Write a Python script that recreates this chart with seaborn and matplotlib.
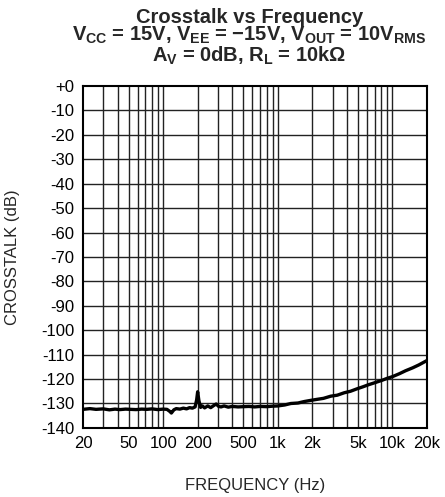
import numpy as np
import pandas as pd
import matplotlib
matplotlib.use("Agg")
import matplotlib.pyplot as plt
import seaborn as sns

# valores
freq = [20, 23, 26, 30, 34, 38, 42, 47, 52, 58, 65, 72, 80, 90, 100, 108,
        114, 118, 124, 130, 140, 150, 160, 170, 180, 190, 196, 200, 205,
        212, 220, 230, 245, 260, 275, 290, 305, 320, 340, 370, 400, 450,
        500, 560, 630, 700, 800, 900, 1000, 1150, 1300, 1500, 1700, 1950,
        2200, 2500, 2900, 3300, 3800, 4300, 4900, 5500, 6200, 7000, 8000,
        9000, 10000, 11500, 13000, 15000, 17000, 20000]
crosstalk = [-132.4, -132.1, -132.4, -132.2, -132.6, -132.3, -132.5, -132.3,
             -132.4, -132.5, -132.3, -132.4, -132.2, -132.5, -132.3, -132.4,
             -133.2, -133.9, -132.6, -132.1, -132.3, -131.9, -132.2, -131.7,
             -131.9, -131.4, -128.5, -125.2, -128.8, -131.6, -131.0, -131.8,
             -131.0, -131.7, -130.9, -130.2, -131.2, -131.4, -131.0, -131.5,
             -131.2, -131.4, -131.3, -131.2, -131.4, -131.2, -131.3, -131.1,
             -131.0, -130.6, -130.0, -129.8, -129.2, -128.7, -128.3, -127.9,
             -127.0, -126.6, -125.6, -125.0, -124.0, -123.2, -122.3, -121.5,
             -120.6, -119.7, -119.0, -117.8, -116.6, -115.4, -114.2, -112.4]

x_ticks = [20, 50, 100, 200, 500, 1000, 2000, 5000, 10000, 20000]
x_labels = ["20", "50", "100", "200", "500", "1k", "2k", "5k", "10k", "20k"]
y_ticks = list(range(0, -150, -10))
y_labels = ["+0"] + [str(v) for v in y_ticks[1:]]

df = pd.DataFrame({"Frecuencia": freq, "Crosstalk": crosstalk})

sns.set_style("white")
plt.rcParams["font.family"] = ["Liberation Sans", "DejaVu Sans"]
plt.rcParams["mathtext.fontset"] = "custom"
plt.rcParams["mathtext.rm"] = "Liberation Sans:bold"
plt.rcParams["mathtext.bf"] = "Liberation Sans:bold"
plt.rcParams["mathtext.it"] = "Liberation Sans:bold"

fig = plt.figure(figsize=(4.45, 4.97), dpi=100)
ax = fig.add_axes([0.1865, 0.139, 0.773, 0.688])

sns.lineplot(data=df, x="Frecuencia", y="Crosstalk", color="black",
             linewidth=2.4, ax=ax, zorder=3)

ax.set_xscale("log")
ax.set_xlim(20, 20000)
ax.set_ylim(-140, 0)

# lineas de la cuadricula en cada decada
for dec in [10, 100, 1000, 10000]:
    for m in range(1, 10):
        f = dec * m
        if 20 < f < 20000:
            ax.axvline(f, color="#222222", linewidth=1.0, zorder=1)
for v in y_ticks[1:-1]:
    ax.axhline(v, color="#222222", linewidth=1.0, zorder=1)

ax.set_xticks(x_ticks)
ax.set_xticklabels(x_labels)
ax.xaxis.set_minor_locator(matplotlib.ticker.NullLocator())
ax.set_yticks(y_ticks)
ax.set_yticklabels(y_labels)
ax.tick_params(axis="both", length=0, labelsize=12, labelcolor="black")
ax.tick_params(axis="x", pad=6)
ax.tick_params(axis="y", pad=6)

for s in ax.spines.values():
    s.set_color("black")
    s.set_linewidth(1.5)

ax.set_xlabel("FREQUENCY (Hz)", fontsize=12, labelpad=19)
ax.set_ylabel("CROSSTALK (dB)", fontsize=12, labelpad=15)

titulo = ("Crosstalk vs Frequency\n"
          r"$V_{CC}$ = 15V, $V_{EE}$ = $-$15V, $V_{OUT}$ = 10$V_{RMS}$" "\n"
          r"$A_V$ = 0dB, $R_L$ = 10k$\Omega$")
fig.text(0.56, 0.984, titulo, ha="center", va="top", fontsize=14.5,
         fontweight="bold", linespacing=0.88)

plt.savefig("out.png", dpi=100)
